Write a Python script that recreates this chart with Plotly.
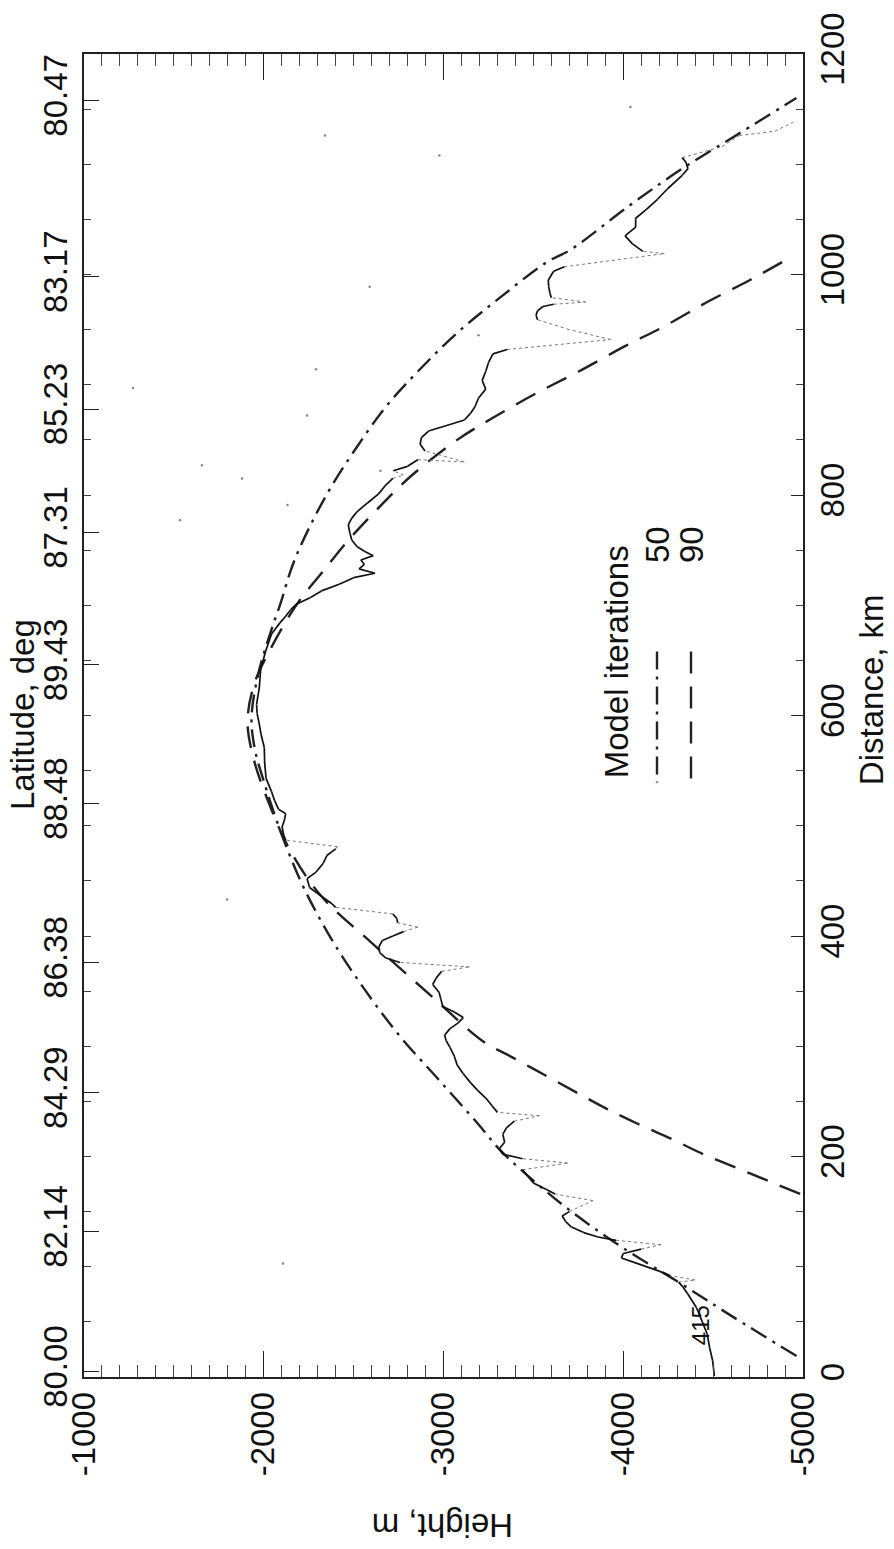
import plotly.graph_objects as go

# ---------------- data ----------------
# Model 50 iterations (dash-dot): distance km, height m
m50_dist = [19, 55, 86, 118, 150, 182, 206, 229, 269, 309, 352, 396, 444, 491, 539,
            570, 598, 638, 678, 701, 737, 773, 809, 844, 880, 912, 947, 979, 1011,
            1023, 1062, 1096, 1128, 1160]
m50_h = [-4964, -4606, -4308, -3990, -3712, -3473, -3314, -3195, -2977, -2758, -2559,
         -2381, -2222, -2102, -2003, -1950, -1932, -1970, -2043, -2092, -2162, -2261,
         -2381, -2520, -2679, -2857, -3076, -3314, -3573, -3712, -4030, -4328, -4646, -4963]

# Model 90 iterations (dashed)
m90_dist = [166, 178, 190, 202, 216, 229, 243, 257, 273, 289, 305, 342, 394, 436, 479,
            520, 560, 595, 630, 662, 685, 705, 729, 757, 785, 817, 850, 870, 892, 912,
            935, 953, 975, 995, 1015]
m90_h = [-4984, -4805, -4626, -4447, -4268, -4089, -3911, -3752, -3573, -3394, -3215,
         -2957, -2599, -2321, -2142, -2030, -1945, -1910, -1950, -2043, -2122, -2202,
         -2321, -2460, -2619, -2818, -3076, -3275, -3513, -3752, -4010, -4228, -4467,
         -4705, -4924]

# Measured profile: distance, height, join type (1 = solid trace, 0 = dotted gap)
prof_dist = [1, 15, 27, 39, 50, 63, 75, 82, 86, 88, 92, 96, 104, 108, 112, 116, 120, 124,
             127, 131, 136, 141, 146, 150, 160, 166, 170, 176, 182, 188, 194, 198, 202,
             207, 213, 220, 226, 232, 237, 240, 246, 253, 260, 267, 275, 283, 291, 299,
             305, 310, 316, 321, 326, 331, 336, 343, 349, 356, 362, 368, 372, 376, 380,
             385, 390, 396, 400, 404, 408, 412, 416, 420, 426, 429, 436, 444, 452, 458,
             466, 473, 479, 481, 487, 491, 499, 505, 511, 515, 523, 531, 543, 557, 571,
             583, 594, 602, 610, 625, 642, 658, 674, 684, 690, 696, 701, 707, 713, 719,
             725, 729, 733, 737, 741, 745, 749, 753, 759, 765, 773, 779, 785, 793, 801,
             809, 815, 818, 822, 826, 832, 830, 840, 846, 852, 858, 864, 868, 874, 880,
             888, 896, 904, 912, 920, 928, 932, 941, 950, 959, 963, 967, 971, 973, 975,
             979, 983, 989, 995, 1003, 1007, 1019, 1021, 1028, 1035, 1043, 1051, 1059,
             1068, 1078, 1090, 1096, 1102, 1106, 1116, 1126, 1130, 1138]
prof_h = [-4507, -4497, -4480, -4467, -4440, -4407, -4360, -4330, -4308, -4400, -4260,
          -4200, -4060, -3990, -4000, -4100, -4209, -3960, -3860, -3780, -3712, -3680,
          -3660, -3700, -3831, -3620, -3573, -3500, -3470, -3440, -3692, -3440, -3330,
          -3310, -3340, -3330, -3350, -3394, -3533, -3300, -3270, -3235, -3190, -3150,
          -3110, -3076, -3060, -3036, -3015, -3006, -3036, -3080, -3110, -3060, -2996,
          -2985, -2975, -2940, -2960, -2990, -3145, -2758, -2680, -2645, -2640, -2660,
          -2718, -2778, -2857, -2745, -2740, -2718, -2400, -2381, -2321, -2255, -2241,
          -2291, -2331, -2351, -2400, -2410, -2122, -2112, -2102, -2115, -2122, -2082,
          -2060, -2043, -2013, -2005, -2003, -1985, -1973, -1963, -1960, -1975, -1983,
          -2010, -2043, -2090, -2122, -2150, -2182, -2260, -2321, -2420, -2500, -2619,
          -2530, -2560, -2540, -2609, -2560, -2520, -2490, -2480, -2470, -2490, -2520,
          -2579, -2639, -2679, -2718, -2778, -2720, -2800, -2857, -3116, -2897, -2870,
          -2877, -2917, -3036, -3116, -3150, -3175, -3195, -3235, -3215, -3235, -3250,
          -3275, -3354, -3930, -3700, -3523, -3515, -3523, -3553, -3613, -3791, -3600,
          -3592, -3585, -3583, -3613, -3672, -4229, -4109, -4050, -4010, -4069, -4069,
          -4129, -4189, -4248, -4328, -4360, -4348, -4328, -4550, -4646, -4844, -4944]
prof_join = [1, 1, 1, 1, 1, 1, 1, 1, 1, 0, 0, 1, 1, 1, 1, 1, 0, 0, 1, 1, 1, 1, 1, 1, 0, 0,
             1, 1, 1, 1, 0, 0, 1, 1, 1, 1, 1, 1, 0, 0, 1, 1, 1, 1, 1, 1, 1, 1, 1, 1, 1, 1,
             1, 1, 1, 1, 1, 1, 1, 1, 0, 0, 1, 1, 1, 1, 1, 1, 0, 0, 1, 1, 0, 1, 1, 1, 1, 1,
             1, 1, 1, 0, 0, 1, 1, 1, 1, 1, 1, 1, 1, 1, 1, 1, 1, 1, 1, 1, 1, 1, 1, 1, 1, 1,
             1, 1, 1, 1, 1, 1, 1, 1, 1, 1, 1, 1, 1, 1, 1, 1, 1, 1, 1, 1, 1, 0, 0, 1, 1, 0,
             0, 1, 1, 1, 1, 1, 1, 1, 1, 1, 1, 1, 1, 1, 1, 0, 0, 0, 1, 1, 1, 1, 0, 0, 1, 1,
             1, 1, 1, 0, 0, 1, 1, 1, 1, 1, 1, 1, 1, 1, 1, 1, 0, 0, 0, 0]

# Isolated stray points
dots_dist = [1126, 1108, 989, 914, 872, 791, 822, 945, 1152, 103, 897, 827, 815, 777, 433]
dots_h = [-2341, -2977, -2589, -2291, -2241, -2132, -2649, -3195, -4040, -2107, -1273,
          -1656, -1879, -1534, -1796]

# Axis ticks
dist_ticks = [0, 200, 400, 600, 800, 1000, 1200]
dist_minor = [50, 100, 150, 250, 300, 350, 450, 500, 550, 650, 700, 750, 850, 900, 950,
              1050, 1100, 1150]
height_ticks = [-1000, -2000, -3000, -4000, -5000]
height_labels = ["-1000", "-2000", "-3000", "-4000", "-5000"]
height_minor = [-1100, -1200, -1300, -1400, -1500, -1600, -1700, -1800, -1900,
                -2100, -2200, -2300, -2400, -2500, -2600, -2700, -2800, -2900,
                -3100, -3200, -3300, -3400, -3500, -3600, -3700, -3800, -3900,
                -4100, -4200, -4300, -4400, -4500, -4600, -4700, -4800, -4900]
lat_pos = [5, 132, 258, 376, 520, 646, 766, 878, 998, 1158]
lat_labels = ["80.00", "82.14", "84.29", "86.38", "88.48", "89.43", "87.31", "85.23",
              "83.17", "80.47"]

# ---------------- build segments ----------------
sx, sy, dx, dy = [], [], [], []
for i in range(1, len(prof_dist)):
    seg_x = [prof_h[i - 1], prof_h[i], None]
    seg_y = [prof_dist[i - 1], prof_dist[i], None]
    if prof_join[i]:
        sx += seg_x
        sy += seg_y
    else:
        dx += seg_x
        dy += seg_y

FONT = "Liberation Sans, Arial, Helvetica, sans-serif"
fig = go.Figure()

fig.add_trace(go.Scatter(x=m50_h, y=m50_dist, mode="lines", line_shape="spline",
                         line=dict(color="#222", width=2.4, dash="18px,7px,3px,7px"),
                         showlegend=False))
fig.add_trace(go.Scatter(x=m90_h, y=m90_dist, mode="lines", line_shape="spline",
                         line=dict(color="#222", width=2.4, dash="22px,13px"),
                         showlegend=False))
fig.add_trace(go.Scatter(x=dx, y=dy, mode="lines",
                         line=dict(color="#777", width=1, dash="dot"), showlegend=False))
fig.add_trace(go.Scatter(x=sx, y=sy, mode="lines",
                         line=dict(color="#111", width=1.7), showlegend=False))
fig.add_trace(go.Scatter(x=dots_h, y=dots_dist, mode="markers",
                         marker=dict(color="#888", size=2.5), showlegend=False))
# invisible carriers so the helper axes are drawn
for xa, ya in [("x", "y2"), ("x2", "y"), ("x", "y3"), ("x", "y4")]:
    fig.add_trace(go.Scatter(x=[None], y=[None], xaxis=xa, yaxis=ya, showlegend=False,
                             hoverinfo="skip"))

W, H = 894, 1549
L, R, T, B = 84, 91, 46, 172
pw, ph = W - L - R, H - T - B

def px(xp):
    return (xp - L) / pw

def py(yp):
    return (H - B - yp) / ph

common = dict(showgrid=False, zeroline=False)
fig.update_layout(
    width=W, height=H, margin=dict(l=L, r=R, t=T, b=B),
    paper_bgcolor="white", plot_bgcolor="white",
    font=dict(family=FONT, size=34, color="#111"),
    xaxis=dict(range=[-1000, -5000], tickmode="array", tickvals=height_ticks,
               ticktext=height_labels, tickangle=-90,
               ticks="inside", ticklen=26, tickwidth=1.3, tickcolor="#222",
               showline=True, linecolor="#222", linewidth=1.5, mirror="ticks",
               tickfont=dict(size=33), **common),
    xaxis2=dict(range=[-1000, -5000], overlaying="x", anchor="y", side="bottom",
                tickmode="array", tickvals=height_minor, showticklabels=False,
                ticks="inside", ticklen=12, tickwidth=1, tickcolor="#444",
                mirror="ticks", showline=False, **common),
    yaxis=dict(range=[0, 1200], tickmode="array", tickvals=dist_ticks, side="right",
               tickangle=-90, ticks="inside", ticklen=12, tickwidth=1.3,
               tickcolor="#222", showline=True, linecolor="#222", linewidth=1.5,
               mirror=True, tickfont=dict(size=33), **common),
    yaxis4=dict(range=[0, 1200], overlaying="y", side="right", anchor="x",
                tickmode="array", tickvals=dist_minor, showticklabels=False,
                ticks="inside", ticklen=7, tickwidth=1, tickcolor="#444",
                showline=False, **common),
    yaxis3=dict(range=[0, 1200], overlaying="y", side="left", anchor="x",
                tickmode="array", tickvals=dist_minor + [200, 400, 600, 800, 1000],
                showticklabels=False, ticks="inside", ticklen=7, tickwidth=1,
                tickcolor="#444", showline=False, **common),
    yaxis2=dict(range=[0, 1200], overlaying="y", side="left", anchor="x",
                tickmode="array", tickvals=lat_pos, ticktext=lat_labels, tickangle=-90,
                ticks="inside", ticklen=15, tickwidth=1.2, tickcolor="#222",
                ticklabelstandoff=9, showline=False,
                tickfont=dict(size=33), **common),
)

ann = [
    dict(text="Distance, km", x=px(871), y=py(686), textangle=-90),
    dict(text="Latitude, deg", x=px(22), y=py(711), textangle=-90),
    dict(text="Height, m", x=px(443), y=py(1527), textangle=180),
    dict(text="Model iterations", x=px(616), y=py(658), textangle=-90),
    dict(text="50", x=px(657), y=py(540), textangle=-90),
    dict(text="90", x=px(691), y=py(540), textangle=-90),
]
for a in ann:
    fig.add_annotation(xref="paper", yref="paper", showarrow=False,
                       xanchor="center", yanchor="middle",
                       font=dict(family=FONT, size=33, color="#111"), **a)
fig.add_annotation(x=-4427, y=47, xref="x", yref="y", text="415", textangle=-90,
                   showarrow=False, font=dict(family=FONT, size=24, color="#111"))

# legend samples
fig.add_shape(type="line", xref="paper", yref="paper", x0=px(657), x1=px(657),
              y0=py(647), y1=py(779), line=dict(color="#222", width=2.4,
                                                dash="18px,7px,3px,7px"))
fig.add_shape(type="line", xref="paper", yref="paper", x0=px(691), x1=px(691),
              y0=py(647), y1=py(779), line=dict(color="#222", width=2.4,
                                                dash="22px,13px"))

fig.write_html("out.html")
